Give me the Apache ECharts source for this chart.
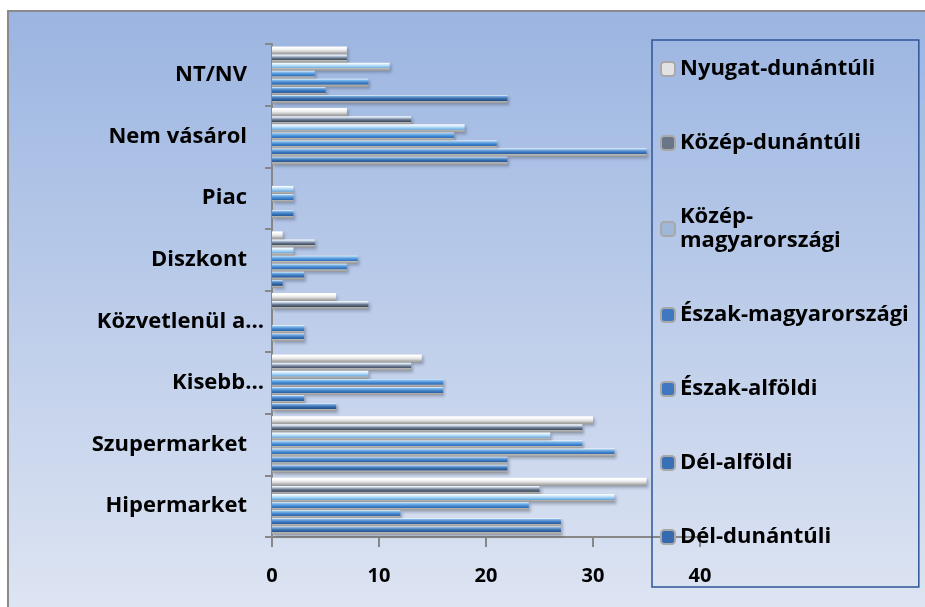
<!DOCTYPE html>
<html>
<head>
<meta charset="utf-8">
<script src="https://cdn.jsdelivr.net/npm/echarts@6/dist/echarts.min.js"></script>
<style>
html,body{margin:0;padding:0;background:#ffffff;}
#chart{width:925px;height:607px;}
</style>
</head>
<body>
<div id="chart"></div>
<script>
// Categories listed bottom -> top (as drawn on the value chart)
const categories = ['Hipermarket', 'Szupermarket', 'Kisebb…', 'Közvetlenül a…', 'Diszkont', 'Piac', 'Nem vásárol', 'NT/NV'];
const truncatedLabels = ['Kisebb…', 'Közvetlenül a…'];

// Series listed top -> bottom within each group (same as the legend)
const seriesNames = ['Nyugat-dunántúli', 'Közép-dunántúli', 'Közép-magyarországi', 'Észak-magyarországi', 'Észak-alföldi', 'Dél-alföldi', 'Dél-dunántúli'];
const legendLabels = ['Nyugat-dunántúli', 'Közép-dunántúli', 'Közép-\nmagyarországi', 'Észak-magyarországi', 'Észak-alföldi', 'Dél-alföldi', 'Dél-dunántúli'];

const nyugatDunantuli   = [35, 30, 14, 6, 1, 0, 7, 7];
const kozepDunantuli    = [25, 29, 13, 9, 4, 0, 13, 7];
const kozepMagyarorszag = [32, 26, 9, 0, 2, 2, 18, 11];
const eszakMagyarorszag = [24, 29, 16, 0, 8, 2, 17, 4];
const eszakAlfoldi      = [12, 32, 16, 3, 7, 0, 21, 9];
const delAlfoldi        = [27, 22, 3, 3, 3, 2, 35, 5];
const delDunantuli      = [27, 22, 6, 0, 1, 0, 22, 22];

const seriesValues = [nyugatDunantuli, kozepDunantuli, kozepMagyarorszag, eszakMagyarorszag, eszakAlfoldi, delAlfoldi, delDunantuli];

const xTicks = { min: 0, max: 40, interval: 10 };

// colour triples: highlight, base, dark
const palette = [
  ['#ffffff', '#ededed', '#c8c8c8'],
  ['#d3e0f0', '#6d7c92', '#3e4a5e'],
  ['#e6f5ff', '#a6d4f6', '#6ea9dc'],
  ['#8fc6f2', '#4b8fd6', '#2f6db5'],
  ['#88c0ee', '#4687cf', '#2c66aa'],
  ['#80b4e8', '#3e7bc2', '#285c9e'],
  ['#7eaee0', '#3a6fae', '#24508a']
];
const legendFill = ['#e2e2e2', '#6b7588', '#9fb8d8', '#3f78c0', '#3f78c0', '#3a70b8', '#3569b0'];

function barGradient(c) {
  return new echarts.graphic.LinearGradient(0, 0, 0, 1, [
    { offset: 0, color: '#ffffff' },
    { offset: 0.14, color: c[0] },
    { offset: 0.42, color: c[1] },
    { offset: 0.68, color: c[2] },
    { offset: 0.72, color: '#b8b8b8' },
    { offset: 1, color: '#959595' }
  ]);
}

const chart = echarts.init(document.getElementById('chart'), null, { renderer: 'canvas' });

const FONT = 'Open Sans';

const series = seriesNames.map((name, i) => ({
  name: name,
  type: 'bar',
  data: seriesValues[i].map(v => (v === 0 ? '-' : v)),
  barGap: '0%',
  barCategoryGap: '8%',
  itemStyle: {
    color: barGradient(palette[i]),
    borderWidth: 0,
    shadowColor: 'rgba(60,70,90,0.35)',
    shadowBlur: 3,
    shadowOffsetX: 2,
    shadowOffsetY: 2
  },
  emphasis: { disabled: true },
  animation: false
}));

const option = {
  animation: false,
  backgroundColor: '#ffffff',
  graphic: [
    {
      type: 'rect',
      z: -10,
      silent: true,
      shape: { x: 8, y: 11, width: 940, height: 620 },
      style: {
        fill: new echarts.graphic.LinearGradient(0, 0, 0, 1, [
          { offset: 0, color: '#9bb5e1' },
          { offset: 1, color: '#e0e6f3' }
        ]),
        stroke: '#8a8a8a',
        lineWidth: 2
      }
    }
  ],
  grid: { left: 272, right: 225, top: 44, bottom: 70, containLabel: false },
  xAxis: {
    type: 'value',
    min: xTicks.min,
    max: xTicks.max,
    interval: xTicks.interval,
    splitLine: { show: false },
    axisLine: { show: true, lineStyle: { color: '#878787', width: 2 } },
    axisTick: { show: true, length: 10, lineStyle: { color: '#878787', width: 2 } },
    axisLabel: { margin: 29, color: '#000000', fontFamily: FONT, fontWeight: 'bold', fontSize: 20 }
  },
  yAxis: {
    type: 'category',
    data: categories,
    axisLine: { show: true, lineStyle: { color: '#878787', width: 2 } },
    axisTick: { show: true, length: 7, lineStyle: { color: '#878787', width: 2 } },
    axisLabel: {
      margin: 8,
      color: '#000000',
      fontFamily: FONT,
      fontWeight: 'bold',
      fontSize: 22,
      formatter: function (v) {
        return truncatedLabels.indexOf(v) >= 0 ? '{t|' + v + '}' : '{t|' + v + '}{s|}';
      },
      rich: {
        t: { fontFamily: FONT, fontWeight: 'bold', fontSize: 22, color: '#000' },
        s: { width: 17 }
      }
    }
  },
  legend: {
    orient: 'vertical',
    left: 652,
    top: 40,
    padding: [17, 10, 38, 8],
    borderColor: '#2c5597',
    borderWidth: 1.5,
    itemWidth: 14,
    itemHeight: 14,
    itemGap: 50,
    data: seriesNames.map((n, i) => ({
      name: n,
      itemStyle: { color: legendFill[i], borderColor: '#a8a8a8', borderWidth: 2 }
    })),
    formatter: function (name) {
      return legendLabels[seriesNames.indexOf(name)];
    },
    textStyle: { color: '#000000', fontFamily: FONT, fontWeight: 'bold', fontSize: 22, lineHeight: 24 },
    selectedMode: false
  },
  series: series
};

chart.setOption(option);
</script>
</body>
</html>
